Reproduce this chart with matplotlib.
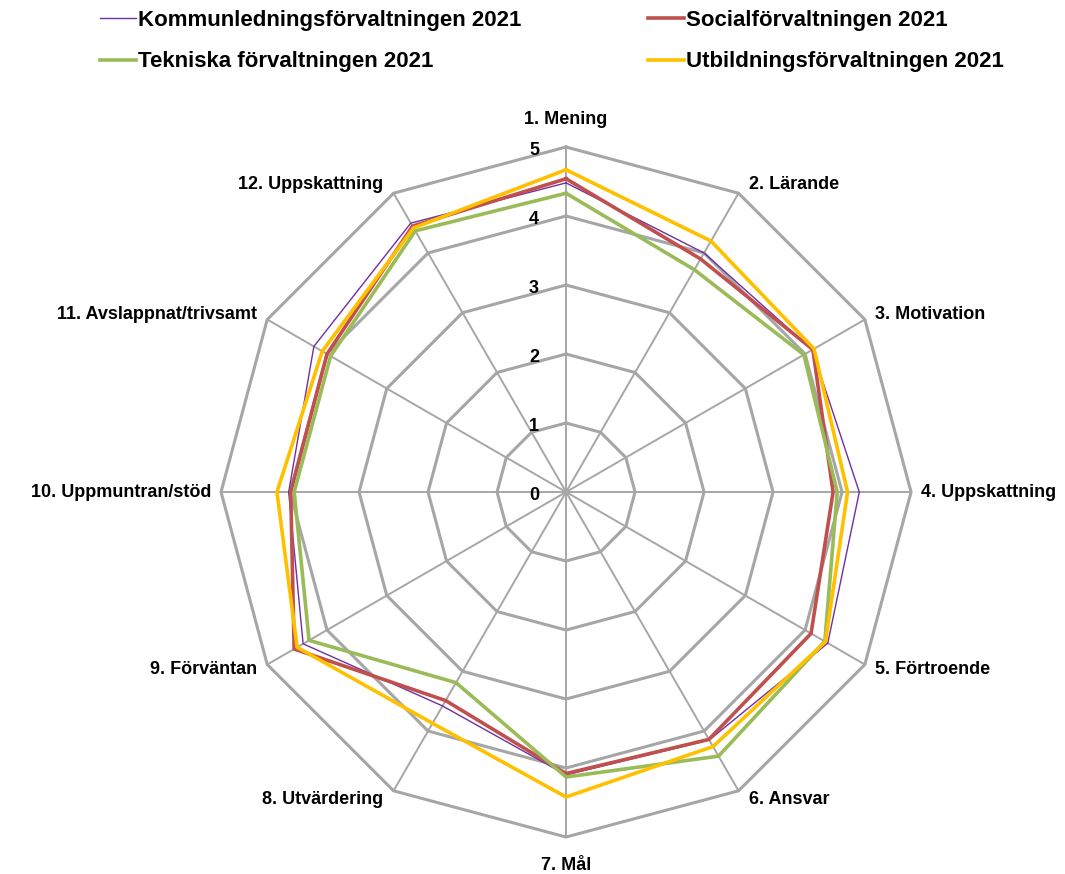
import numpy as np
import matplotlib
matplotlib.use('Agg')
import matplotlib.pyplot as plt

plt.rcParams['font.family'] = ['Liberation Sans', 'DejaVu Sans']

# categories, clockwise from the top
categories = ['1. Mening', '2. Lärande', '3. Motivation', '4. Uppskattning',
              '5. Förtroende', '6. Ansvar', '7. Mål', '8. Utvärdering',
              '9. Förväntan', '10. Uppmuntran/stöd', '11. Avslappnat/trivsamt',
              '12. Uppskattning']

kommun = [4.48, 4.00, 4.12, 4.25, 4.38, 4.15, 4.10, 3.58, 4.40, 4.02, 4.22, 4.50]
social = [4.54, 3.90, 4.13, 3.87, 4.10, 4.14, 4.08, 3.49, 4.55, 3.99, 4.00, 4.45]
teknik = [4.33, 3.72, 3.98, 3.93, 4.33, 4.42, 4.13, 3.19, 4.30, 3.94, 3.94, 4.37]
utbild = [4.67, 4.20, 4.15, 4.08, 4.34, 4.26, 4.42, 3.87, 4.50, 4.19, 4.08, 4.42]

series_names = ['Kommunledningsförvaltningen 2021', 'Socialförvaltningen 2021',
                'Tekniska förvaltningen 2021', 'Utbildningsförvaltningen 2021']
series_vals = [kommun, social, teknik, utbild]
series_colors = ['#7030A0', '#C0504D', '#9BBB59', '#FFC000']
series_lw = [1.0, 2.6, 2.6, 2.6]

ring_values = [1, 2, 3, 4, 5]
tick_labels = ['0', '1', '2', '3', '4', '5']

n = len(categories)
theta = np.linspace(0, 2 * np.pi, n, endpoint=False)
theta_closed = np.append(theta, theta[0])

fig = plt.figure(figsize=(10.65, 8.74), dpi=100)
ax = fig.add_axes([0.2075, 0.0423, 0.648, 0.7895], projection='polar')
ax.set_theta_zero_location('N')
ax.set_theta_direction(-1)
ax.set_ylim(0, 5)
ax.set_xticks([])
ax.set_yticks([])
ax.grid(False)
ax.spines['polar'].set_visible(False)

grid_color = '#a6a6a6'
# polygon rings
for r in ring_values:
    ax.plot(theta_closed, [r] * (n + 1), color=grid_color, lw=2.2, zorder=1,
            clip_on=False)
# spokes
for t in theta:
    ax.plot([t, t], [0, 5], color=grid_color, lw=1.4, zorder=1, clip_on=False)

handles = []
for name, vals, col, lw in zip(series_names, series_vals, series_colors, series_lw):
    h, = ax.plot(theta_closed, vals + [vals[0]], color=col, lw=lw, label=name,
                 zorder=3, clip_on=False)
    handles.append(h)

# radial value labels
for i, lab in enumerate(tick_labels):
    ax.annotate(lab, xy=(0, i), xytext=(-27, -3), textcoords='offset pixels',
                ha='right', va='center', fontsize=13, fontweight='bold',
                annotation_clip=False)

# category labels
for t, lab in zip(theta, categories):
    s, c = np.sin(t), np.cos(t)
    if abs(s) < 1e-6:
        ha = 'center'
        dx, dy = 0, 28 * np.sign(c)
    else:
        ha = 'left' if s > 0 else 'right'
        dx, dy = 10 * np.sign(s), 10 * c
    ax.annotate(lab, xy=(t, 5), xytext=(dx, dy), textcoords='offset pixels',
                ha=ha, va='center', fontsize=13, fontweight='bold',
                annotation_clip=False)

prop = {'weight': 'bold', 'size': 16}
fig.legend([handles[0], handles[2]], [series_names[0], series_names[2]],
           loc='upper left', bbox_to_anchor=(100 / 1065, 1 - 10 / 874),
           frameon=False, prop=prop, handlelength=1.6, handletextpad=0.12,
           labelspacing=0.92, borderpad=0, borderaxespad=0)
fig.legend([handles[1], handles[3]], [series_names[1], series_names[3]],
           loc='upper left', bbox_to_anchor=(648 / 1065, 1 - 10 / 874),
           frameon=False, prop=prop, handlelength=1.6, handletextpad=0.12,
           labelspacing=0.92, borderpad=0, borderaxespad=0)

fig.savefig('out.png', dpi=100)
